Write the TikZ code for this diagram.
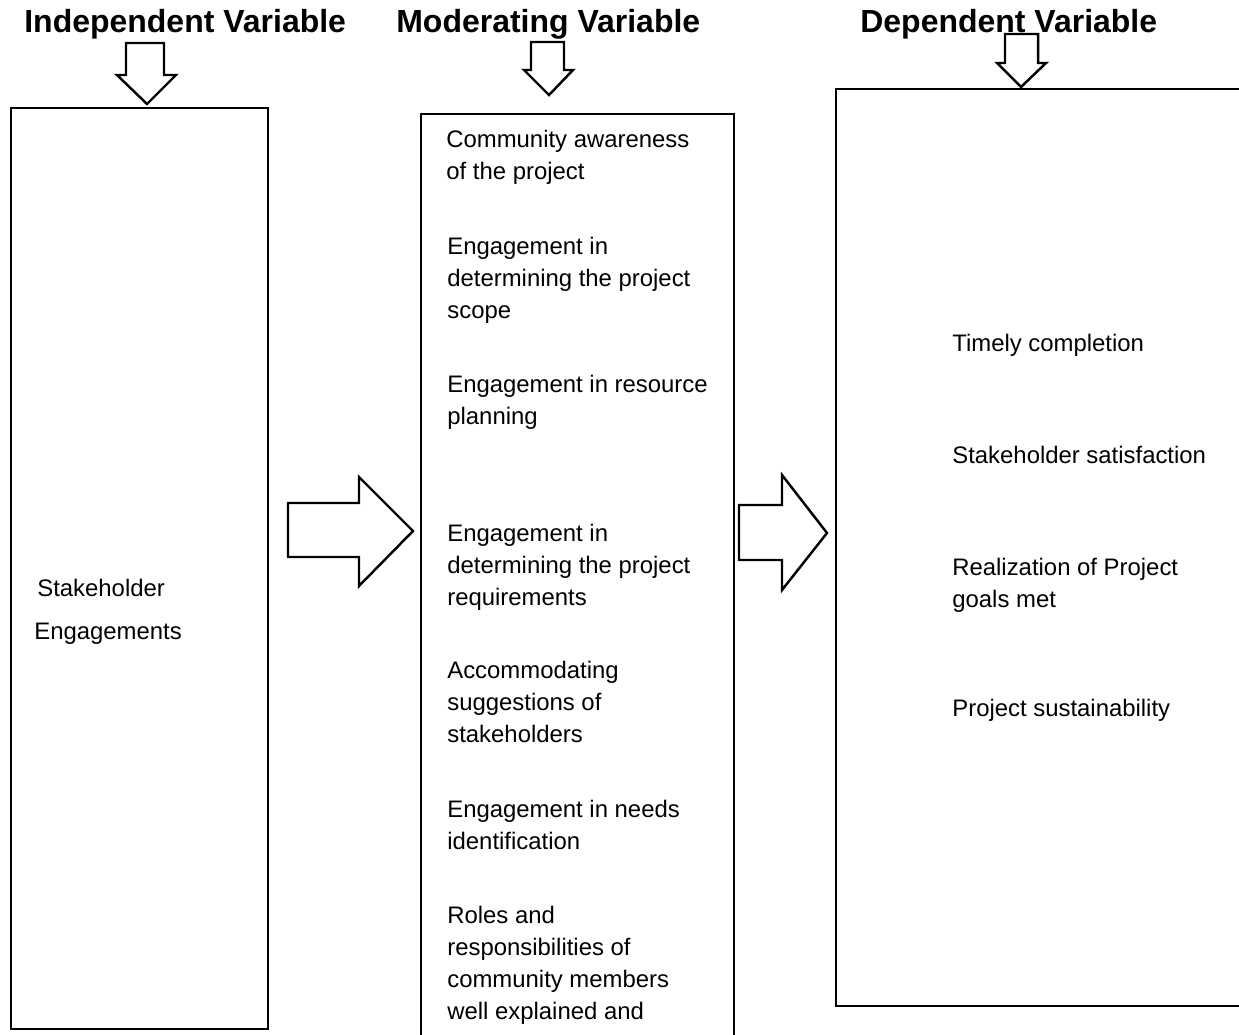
\documentclass[tikz,border=0pt]{standalone}
\usepackage{fontspec}
\setmainfont{Liberation Sans}
\usepackage{tikz}
\usetikzlibrary{calc}

\tikzset{
    titolo/.style={font=\fontsize{18.2}{22}\selectfont\bfseries, anchor=base west, inner sep=0pt},
    voce/.style={font=\fontsize{13.6}{18.1}\selectfont, anchor=base west, inner sep=0pt, align=left},
    scatola/.style={line width=0.9pt},
    blocco/.style={line width=1.4pt, line join=miter}
}

\begin{document}
\begin{tikzpicture}[x=0.02cm, y=-0.02cm]
    % Parametri
    \pgfmathsetmacro{\xind}{37}
    \pgfmathsetmacro{\xmod}{447}
    \pgfmathsetmacro{\xdip}{952}
    \useasboundingbox (0,0) rectangle (1239,1034);
    % Titoli
    \node[titolo] (indip) at (24,33) {Independent Variable};
    \node[titolo] (moder) at (396,33) {Moderating Variable};
    \node[titolo] (dipend) at (860,33) {Dependent Variable};
    % Scatole (quelle a destra escono dal foglio)
    \draw[scatola] (11,108) rectangle (268,1029);
    \draw[scatola] (421,1040) -- (421,114) -- (734,114) -- (734,1040);
    \draw[scatola] (1245,89) -- (836,89) -- (836,1006) -- (1245,1006);
    % Frecce verso il basso
    \draw[blocco] (126,43) -- (164,43) -- (164,75) -- (176,75) -- (147,104) -- (117,75) -- (126,75) -- cycle;
    \draw[blocco] (531,42) -- (564,42) -- (564,70) -- (573,70) -- (549,95) -- (524,70) -- (531,70) -- cycle;
    \draw[blocco] (1005,34) -- (1038,34) -- (1038,63) -- (1046,63) -- (1021,87) -- (997,63) -- (1005,63) -- cycle;
    % Frecce verso destra
    \draw[blocco] (288,503) -- (359,503) -- (359,477) -- (413,531) -- (359,586) -- (359,557) -- (288,557) -- cycle;
    \draw[blocco] (739,505) -- (782,505) -- (782,475) -- (827,533) -- (782,590) -- (782,560) -- (739,560) -- cycle;
    % Variabile indipendente
    \node[voce] (stake) at (\xind,596) {Stakeholder};
    \node[voce] (engag) at (\xind-3,639) {Engagements};
    % Variabile moderatrice (base = ultima riga)
    \node[voce] (consap) at (\xmod-1,179) {Community awareness\\of the project};
    \node[voce] (ambito) at (\xmod,318) {Engagement in\\determining the project\\scope};
    \node[voce] (risorse) at (\xmod,424) {Engagement in resource\\planning};
    \node[voce] (requisiti) at (\xmod,605) {Engagement in\\determining the project\\requirements};
    \node[voce] (suggerim) at (\xmod,742) {Accommodating\\suggestions of\\stakeholders};
    \node[voce] (bisogni) at (\xmod,849) {Engagement in needs\\identification};
    \node[voce] (ruoli) at (\xmod,1019) {Roles and\\responsibilities of\\community members\\well explained and};
    % Variabile dipendente
    \node[voce] (tempi) at (\xdip,351) {Timely completion};
    \node[voce] (soddisf) at (\xdip,463) {Stakeholder satisfaction};
    \node[voce] (obiettivi) at (\xdip,607) {Realization of Project\\goals met};
    \node[voce] (sosten) at (\xdip,716) {Project sustainability};
\end{tikzpicture}
\end{document}
